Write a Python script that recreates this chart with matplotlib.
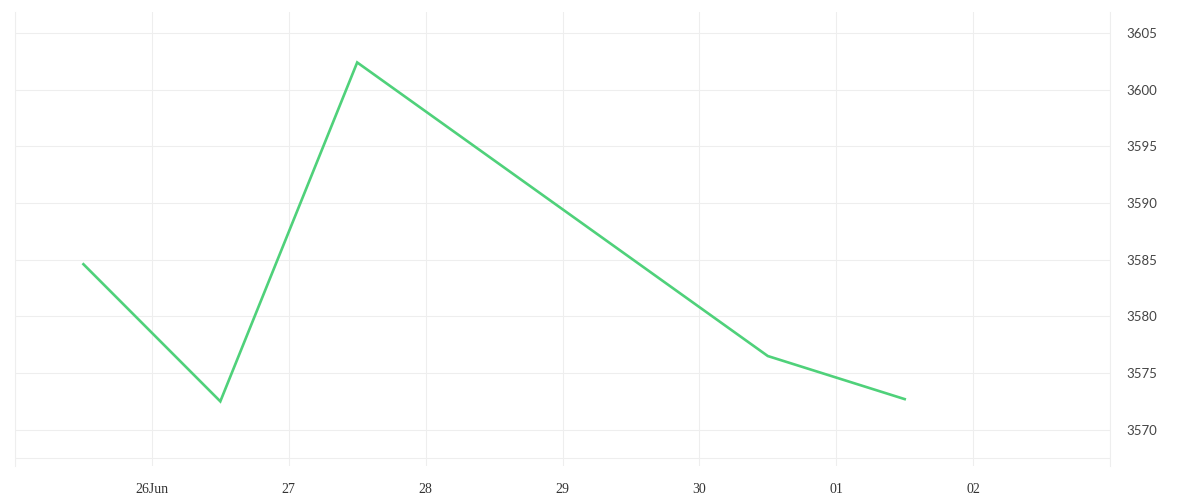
import matplotlib; matplotlib.use('Agg')
from matplotlib import pyplot as plt
import matplotlib.dates as mdates
import numpy as np
import datetime as dt

# data (timestamps at noon)
dates = [dt.datetime(2023, 6, 25, 12), dt.datetime(2023, 6, 26, 12), dt.datetime(2023, 6, 27, 12),
	dt.datetime(2023, 6, 30, 12), dt.datetime(2023, 7, 1, 12)]
values = [3584.6, 3572.5, 3602.4, 3576.5, 3572.7]

tick_days = [dt.datetime(2023, 6, 25) + dt.timedelta(days=i) for i in range(9)]
tick_labels = ['', '26Jun', '27', '28', '29', '30', '01', '02', '']
y_ticks = [3570, 3575, 3580, 3585, 3590, 3595, 3600, 3605]

fig = plt.figure(figsize=(12, 5), dpi=100)
ax = fig.add_axes([0.0125, 0.068, 0.9125, 0.908])

ax.plot(dates, values, color='#4fd17a', linewidth=1.9, solid_joinstyle='miter')

ax.set_xlim(tick_days[0], tick_days[-1])
ax.set_ylim(3566.8, 3606.85)

ax.set_xticks(tick_days)
ax.set_xticklabels(tick_labels, fontfamily='Liberation Serif', fontsize=10, color='#333333')
ax.set_yticks(y_ticks)
ax.set_yticklabels([str(v) for v in y_ticks], fontfamily='Lato', fontsize=9.5, color='#444444')
ax.yaxis.tick_right()
ax.tick_params(axis='both', length=0)
ax.tick_params(axis='x', pad=12)
ax.tick_params(axis='y', pad=12)

ax.grid(True, color='#eeeeee', linewidth=0.8)
ax.set_axisbelow(True)
for s in ax.spines.values():
	s.set_visible(False)
# edge lines and thin bottom rule
ax.axvline(tick_days[0], color='#eeeeee', linewidth=0.8, zorder=0, clip_on=False)
ax.axvline(tick_days[-1], color='#eeeeee', linewidth=0.8, zorder=0, clip_on=False)
ax.axhline(3567.5, color='#eeeeee', linewidth=0.8, zorder=0)

plt.savefig('out.png')
